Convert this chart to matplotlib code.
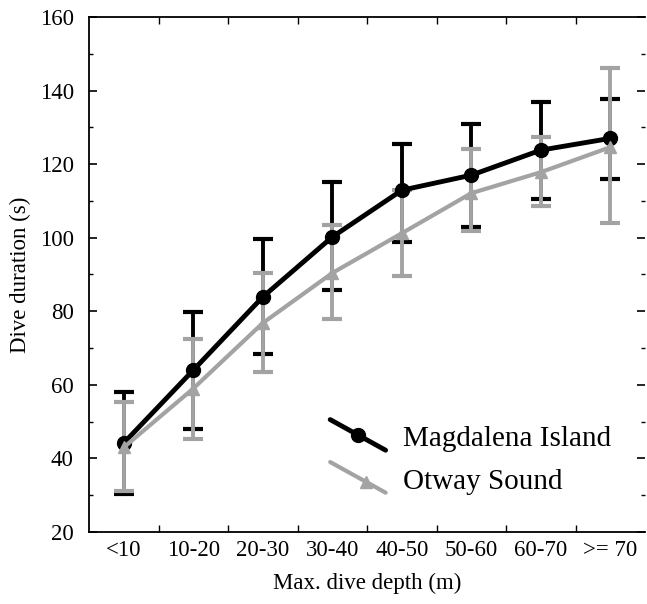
import matplotlib.pyplot as plt
from matplotlib.lines import Line2D
from matplotlib.legend_handler import HandlerLine2D
from matplotlib.ticker import MultipleLocator, FixedLocator

plt.rcParams['font.family'] = ['Liberation Serif', 'DejaVu Serif']

# depth classes
depths = ["<10", "10-20", "20-30", "30-40", "40-50", "50-60", "60-70", ">= 70"]

# Magdalena Island: mean and error (s)
mag_mean = [44.2, 64.0, 83.9, 100.2, 112.9, 117.0, 123.8, 127.0]
mag_lo = [13.8, 16.0, 15.5, 14.4, 14.1, 14.1, 13.3, 11.1]
mag_hi = [13.8, 15.8, 15.7, 14.9, 12.5, 13.9, 13.0, 10.7]

# Otway Sound: mean and error (s)
otw_mean = [43.0, 59.0, 76.8, 90.4, 101.2, 112.1, 117.8, 124.6]
otw_lo = [11.9, 13.7, 13.3, 12.5, 11.6, 10.3, 9.2, 20.6]
otw_hi = [12.3, 13.4, 13.6, 13.0, 11.7, 12.0, 9.5, 21.5]

gray = "#a3a3a3"


class DiagHandler(HandlerLine2D):
    def create_artists(self, legend, orig_handle, xdescent, ydescent,
                       width, height, fontsize, trans):
        y0 = height * 1.3 - ydescent
        y1 = -height * 0.2 - ydescent
        ln = Line2D([-xdescent, width - xdescent], [y0, y1],
                    color=orig_handle.get_color(),
                    lw=orig_handle.get_linewidth(), solid_capstyle='round')
        ln.set_transform(trans)
        frac = 0.5 if orig_handle.get_marker() == 'o' else 0.65
        mk = Line2D([-xdescent + frac * width], [y0 + frac * (y1 - y0)],
                    marker=orig_handle.get_marker(), ls='none',
                    color=orig_handle.get_color(),
                    markersize=orig_handle.get_markersize())
        mk.set_transform(trans)
        return [ln, mk]


fig = plt.figure(figsize=(6.47, 6.04), dpi=100)
ax = fig.add_axes([0.1376, 0.1192, 0.8594, 0.8527])

x = list(range(len(depths)))

ax.errorbar(x, otw_mean, yerr=[otw_lo, otw_hi], fmt='none', ecolor=gray,
            elinewidth=2.8, capsize=7.5, capthick=3, zorder=2)
ax.errorbar(x, mag_mean, yerr=[mag_lo, mag_hi], fmt='none', ecolor='black',
            elinewidth=2.8, capsize=7.5, capthick=3, zorder=1)
l1, = ax.plot(x, mag_mean, color='black', lw=3.5, marker='o', markersize=10,
              zorder=3, label="Magdalena Island")
l2, = ax.plot(x, otw_mean, color=gray, lw=3, marker='^', markersize=9,
              zorder=4, label="Otway Sound")

ax.set_xlim(-0.5, 7.5)
ax.set_ylim(20, 160)
ax.set_xticks(x)
ax.set_xticklabels(depths)
ax.xaxis.set_minor_locator(FixedLocator([i + 0.5 for i in range(7)]))
ax.yaxis.set_major_locator(MultipleLocator(20))
ax.yaxis.set_minor_locator(MultipleLocator(10))

ax.tick_params(axis='x', which='major', length=0, labelsize=16.5, pad=6)
ax.tick_params(axis='x', which='minor', direction='in', length=5, width=1,
               top=True, bottom=True)
ax.tick_params(axis='y', which='major', direction='in', length=6, width=1.2,
               labelsize=16.5, right=True, pad=11)
ax.tick_params(axis='y', which='minor', direction='in', length=3, width=1,
               right=True)

ax.spines['right'].set_visible(False)
for s in ['left', 'top', 'bottom']:
    ax.spines[s].set_linewidth(1.3)

ax.set_xlabel("Max. dive depth (m)", fontsize=16.5, labelpad=8)
ax.set_ylabel("Dive duration (s)", fontsize=16.5, labelpad=6)

ax.legend(handles=[l1, l2], handler_map={Line2D: DiagHandler()},
          loc='lower left', bbox_to_anchor=(0.397, 0.033), frameon=False,
          fontsize=21, handlelength=1.9, handletextpad=0.6, labelspacing=0.55,
          borderpad=0.2)

fig.savefig("out.png", dpi=100)
